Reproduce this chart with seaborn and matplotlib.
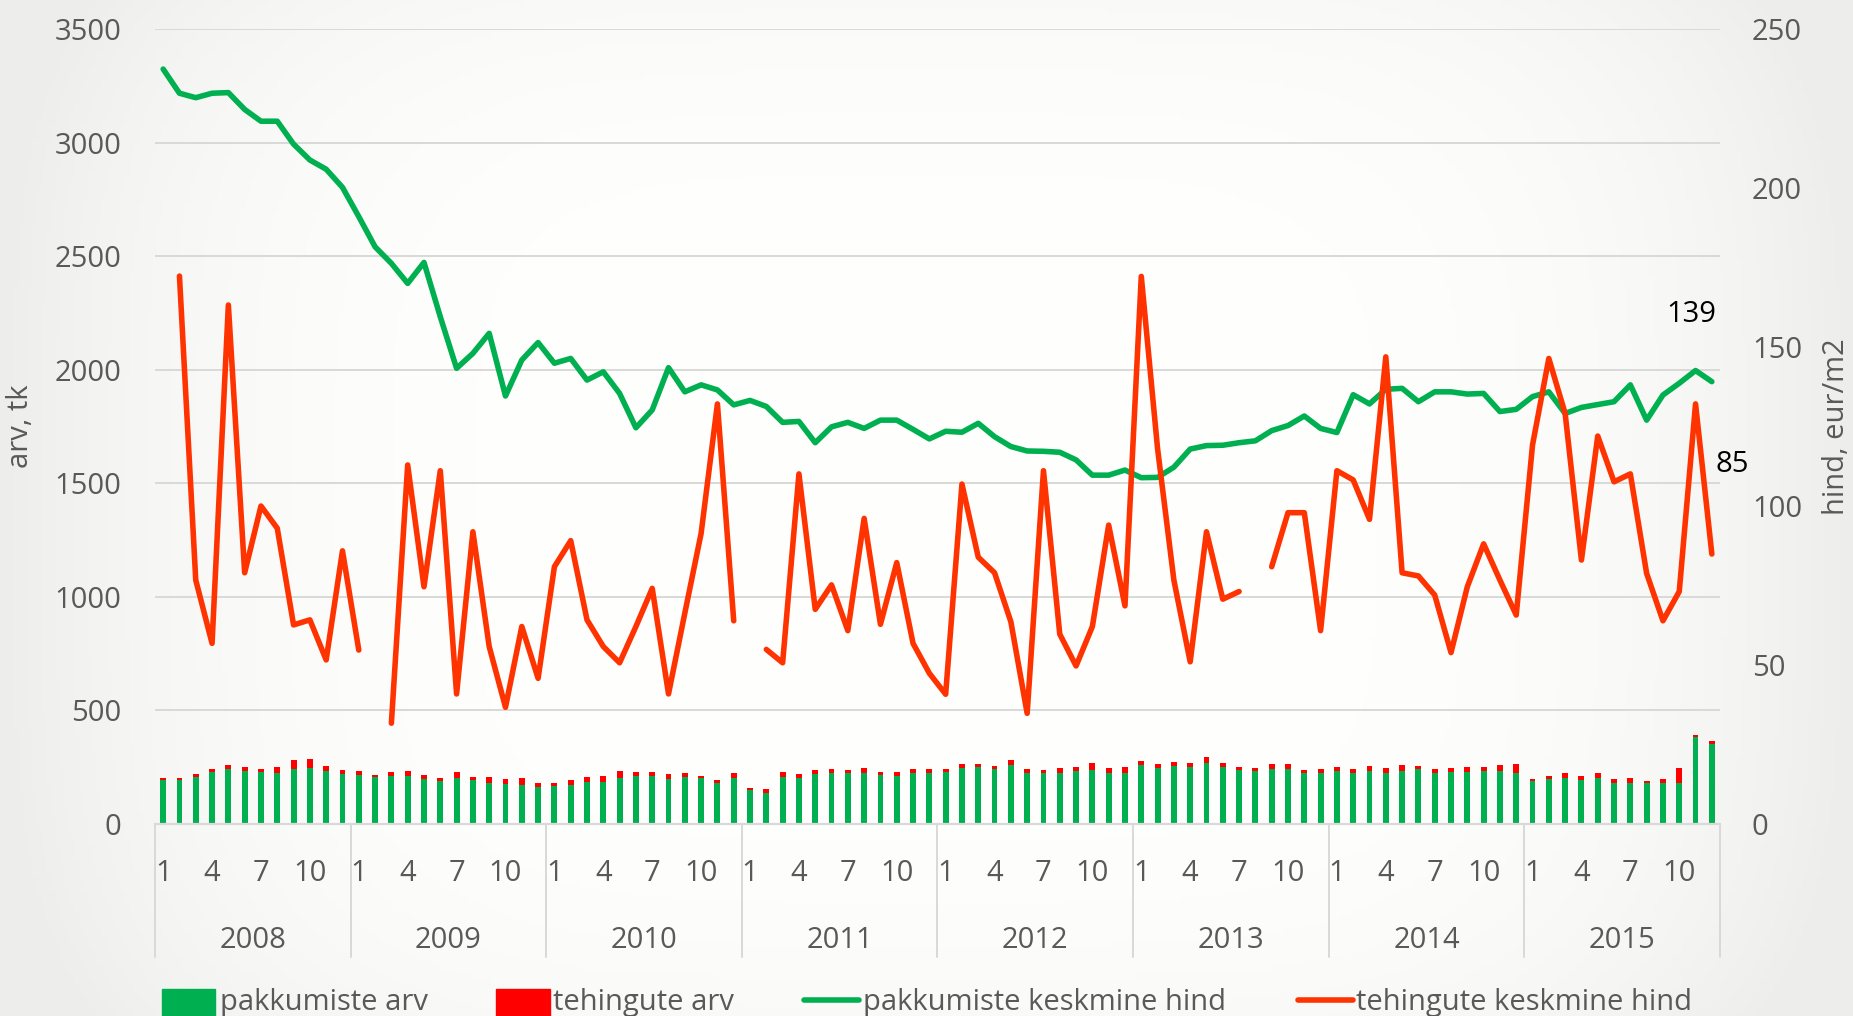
import numpy as np
import pandas as pd
import seaborn as sns
import matplotlib.pyplot as plt
from matplotlib.lines import Line2D
from matplotlib.patches import Rectangle

# data, months Jan 2008 .. Dec 2015
years = ['2008', '2009', '2010', '2011', '2012', '2013', '2014', '2015']

pakkumiste_arv = [194, 194, 208, 228, 242, 235, 229, 226, 244, 248, 233, 222,
                  216, 205, 211, 211, 200, 189, 201, 192, 179, 175, 172, 164,
                  169, 172, 186, 186, 201, 213, 211, 197, 208, 201, 182, 201,
                  150, 135, 208, 204, 219, 226, 226, 226, 214, 213, 226, 223,
                  228, 248, 250, 241, 260, 226, 226, 226, 233, 238, 226, 226,
                  260, 248, 255, 252, 267, 252, 238, 233, 241, 244, 226, 226,
                  233, 226, 235, 226, 235, 241, 226, 228, 228, 235, 235, 226,
                  189, 200, 204, 195, 204, 182, 182, 179, 182, 179, 385, 352]

tehingute_arv = [10, 10, 12, 16, 18, 16, 12, 25, 38, 37, 22, 16,
                 19, 9, 17, 21, 14, 12, 27, 13, 29, 25, 31, 17,
                 13, 22, 19, 27, 34, 15, 19, 23, 15, 10, 12, 22,
                 10, 18, 20, 16, 19, 15, 12, 19, 16, 17, 15, 18,
                 13, 16, 14, 14, 22, 15, 12, 22, 19, 29, 22, 23,
                 19, 15, 17, 15, 29, 18, 12, 12, 23, 19, 12, 16,
                 17, 16, 20, 22, 23, 14, 18, 17, 24, 16, 23, 37,
                 11, 13, 19, 16, 19, 18, 19, 10, 16, 69, 7, 15]

pakkumiste_hind = [237.4, 229.8, 228.4, 229.8, 230.0, 224.7, 221.0, 221.0, 213.8, 208.8, 205.9, 200.2,
                   191.0, 181.5, 176.3, 170.0, 176.6, 159.5, 143.3, 148.0, 154.3, 134.6, 145.9, 151.4,
                   144.9, 146.4, 139.6, 142.2, 135.4, 124.6, 130.2, 143.5, 135.9, 138.1, 136.5, 131.8,
                   133.2, 131.3, 126.3, 126.6, 119.9, 124.9, 126.3, 124.4, 127.0, 127.0, 124.1, 121.1,
                   123.5, 123.2, 126.0, 121.8, 118.7, 117.3, 117.2, 116.9, 114.5, 109.7, 109.7, 111.3,
                   108.9, 109.0, 112.2, 117.9, 119.0, 119.1, 119.9, 120.5, 123.7, 125.3, 128.3, 124.4,
                   123.1, 135.0, 132.1, 136.7, 137.0, 132.8, 135.9, 135.9, 135.2, 135.4, 129.7, 130.4,
                   134.4, 135.9, 129.1, 131.0, 131.9, 132.8, 138.1, 127.0, 134.9, 138.6, 142.6, 139.1]

nan = np.nan
tehingute_hind = [nan, 172.3, 76.7, 56.8, 163.2, 79.0, 100.0, 93.0, 62.6, 64.2, 51.6, 85.9,
                  54.7, nan, 31.7, 112.9, 74.6, 111.1, 40.9, 91.9, 55.8, 36.7, 62.1, 45.8,
                  80.9, 89.1, 64.2, 55.8, 50.7, 62.1, 74.1, 40.9, 66.3, 91.4, 132.1, 63.9,
                  nan, 54.9, 50.7, 110.1, 67.5, 75.2, 60.8, 96.1, 62.8, 82.2, 56.8, 47.4,
                  40.8, 106.9, 83.9, 79.0, 63.6, 34.8, 111.1, 59.7, 49.7, 62.1, 94.0, 68.6,
                  172.2, 118.0, 76.7, 51.0, 91.9, 70.7, 73.1, nan, 80.9, 97.9, 97.9, 60.8,
                  111.1, 108.2, 95.8, 146.9, 79.0, 78.0, 72.0, 53.9, 74.6, 88.1, 76.7, 65.7,
                  119.2, 146.4, 129.1, 83.0, 122.0, 107.6, 110.1, 78.8, 63.9, 73.1, 132.1, 84.9]

GREEN = '#00B050'
RED_BAR = '#FF0000'
RED_LINE = '#FF3300'
GREY_TXT = '#595959'
GRID = '#D9D9D9'

df = pd.DataFrame({'kuu': np.arange(len(pakkumiste_arv)),
                   'pakk': pakkumiste_arv,
                   'teh': tehingute_arv,
                   'pakk_hind': pakkumiste_hind,
                   'teh_hind': tehingute_hind})
df['kokku'] = df['pakk'] + df['teh']
# segment id so the price line breaks where a month is missing
df['seg'] = df['teh_hind'].isna().cumsum()

sns.set_style('white')
plt.rcParams['font.family'] = ['Open Sans', 'DejaVu Sans']
plt.rcParams['lines.solid_joinstyle'] = 'round'
plt.rcParams['lines.solid_capstyle'] = 'round'

W, H = 1853, 1016
fig = plt.figure(figsize=(W / 100, H / 100), dpi=100)

# soft grey vignette like the slide background
bg = fig.add_axes([0, 0, 1, 1], zorder=-10)
gx, gy = np.meshgrid(np.linspace(-1, 1, 400), np.linspace(-1, 1, 220))
shade = 1 - 0.07 * np.clip((np.abs(gx) ** 4 + 0.3 * np.abs(gy) ** 4), 0, 1)
bg.imshow(np.dstack([shade, shade, shade * 0.995]), aspect='auto', extent=[0, 1, 0, 1])
bg.axis('off')

ax = fig.add_axes([155 / W, 1 - 824 / H, 1565 / W, 795 / H])
ax.patch.set_alpha(0)

# stacked bars: total in red, offers in green on top of it
sns.barplot(data=df, x='kuu', y='kokku', color=RED_BAR, saturation=1, width=0.36,
            linewidth=0, ax=ax)
sns.barplot(data=df, x='kuu', y='pakk', color=GREEN, saturation=1, width=0.36,
            linewidth=0, ax=ax)
ax.set_ylim(0, 3500)
ax.set_yticks(range(0, 3501, 500))
ax.yaxis.grid(True, color=GRID, lw=1.4)
ax.set_axisbelow(True)
for s in ['top', 'right', 'left']:
    ax.spines[s].set_visible(False)
ax.spines['bottom'].set_color(GRID)
ax.spines['bottom'].set_linewidth(1.6)

ax2 = ax.twinx()
sns.lineplot(data=df, x='kuu', y='pakk_hind', color=GREEN, lw=4.0, ax=ax2)
sns.lineplot(data=df.dropna(subset=['teh_hind']), x='kuu', y='teh_hind', units='seg',
             estimator=None, color=RED_LINE, lw=4.0, ax=ax2)
ax2.set_ylim(0, 250)
ax2.set_yticks(range(0, 251, 50))
for s in ax2.spines.values():
    s.set_visible(False)
ax.set_xlim(-0.5, len(df) - 0.5)

# month ticks 1, 4, 7, 10 in each year
pos = [i for i in range(len(df)) if i % 12 in (0, 3, 6, 9)]
ax.set_xticks(pos)
ax.set_xticklabels([str(i % 12 + 1) for i in pos])
ax.tick_params(axis='x', length=0, pad=25, labelsize=21, labelcolor=GREY_TXT)
ax.tick_params(axis='y', length=0, pad=24, labelsize=21, labelcolor=GREY_TXT)
ax2.tick_params(axis='y', length=0, pad=23, labelsize=21, labelcolor=GREY_TXT)

for k, yr in enumerate(years):
    ax.text(12 * k + 5.5, -(941 - 824) / 795, yr, transform=ax.get_xaxis_transform(),
            ha='center', va='center', fontsize=21, color=GREY_TXT)
for k in range(len(years) + 1):
    ax.add_line(Line2D([12 * k - 0.5] * 2, [0, -(957 - 824) / 795], color=GRID, lw=1.4,
                       transform=ax.get_xaxis_transform(), clip_on=False))

ax.set_xlabel('')
ax.set_ylabel('arv, tk', fontsize=21, color=GREY_TXT)
ax.yaxis.set_label_coords((35 - 155) / 1565, 0.5)
ax2.set_xlabel('')
ax2.set_ylabel('hind, eur/m2', fontsize=21, color=GREY_TXT)
ax2.yaxis.set_label_coords((1822 - 155) / 1565, 0.5)

# last values
ax2.text(95.25, 160.3, '139', ha='right', va='center', fontsize=21, color='black')
ax2.text(95.25, 113.2, '85', ha='left', va='center', fontsize=21, color='black')

# legend along the bottom edge
fig.add_artist(Rectangle((162 / W, 0), 53 / W, 27 / H, color=GREEN, transform=fig.transFigure))
fig.add_artist(Rectangle((496 / W, 0), 54 / W, 27 / H, color=RED_BAR, transform=fig.transFigure))
fig.add_artist(Line2D([804 / W, 859 / W], [1 - 1000 / H] * 2, color=GREEN, lw=4.0,
                      transform=fig.transFigure))
fig.add_artist(Line2D([1298 / W, 1353 / W], [1 - 1000 / H] * 2, color=RED_LINE, lw=4.0,
                      transform=fig.transFigure))
for x, txt in [(220, 'pakkumiste arv'), (553, 'tehingute arv'),
               (863, 'pakkumiste keskmine hind'), (1356, 'tehingute keskmine hind')]:
    fig.text(x / W, 6 / H, txt, ha='left', va='baseline', fontsize=21, color=GREY_TXT)

fig.savefig('out.png', dpi=100)
